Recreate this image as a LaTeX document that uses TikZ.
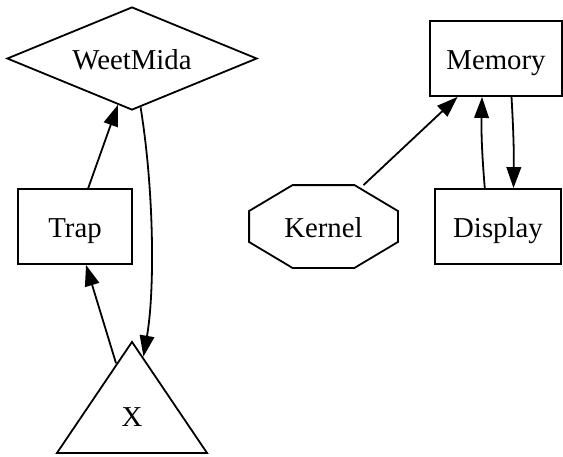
\documentclass[tikz,border=0pt]{standalone}
\usepackage{fontspec}
\setmainfont{Liberation Serif}
\usetikzlibrary{shapes.geometric,arrows.meta}

\begin{document}
\begin{tikzpicture}[x=0.5pt,y=-0.5pt,line width=0.9pt,
	>={Triangle[length=10.5pt,width=7.3pt]},
	every node/.style={font=\fontsize{14.4}{16}\selectfont,inner sep=0pt,text height=11pt,text depth=0pt},
	box/.style={draw,rectangle,minimum height=37.5pt}]
	\useasboundingbox (0,0) rectangle (563,456);

	\node[draw,diamond,aspect=2.43,minimum width=125pt,minimum height=51.5pt] (weet) at (132,58.5) {WeetMida};
	\node[box,minimum width=57pt] (trap) at (75,226.5) {Trap};
	\node[draw,isosceles triangle,isosceles triangle stretches,shape border rotate=90,minimum width=75pt,minimum height=55.5pt] (x) at (132,415.5) {X};
	\node[rectangle,minimum width=73.5pt,minimum height=40.5pt] (kernel) at (323.5,226.5) {Kernel};
	\node[box,minimum width=66pt] (memory) at (496,58.5) {Memory};
	\node[box,minimum width=63pt] (display) at (498,226.5) {Display};

	% octagon round Kernel
	\draw ([xshift=-15.5pt]kernel.north) -- ([xshift=15.5pt]kernel.north) -- ([yshift=7.75pt]kernel.east) -- ([yshift=-7.75pt]kernel.east)
		-- ([xshift=15.5pt]kernel.south) -- ([xshift=-15.5pt]kernel.south) -- ([yshift=-7.75pt]kernel.west) -- ([yshift=7.75pt]kernel.west) -- cycle;

	\draw[->] (trap.71) -- (weet.-107);
	\draw[->] (weet.-80) .. controls (154,190) and (155,290) .. (x.79);
	\draw[->] (x.107) -- (trap.-74);
	\draw[->] (kernel.46) -- (memory.-135);
	\draw[->] (display.109) to[bend left=3] (memory.-110);
	\draw[->] (memory.-68) to[bend left=2] (display.68);
\end{tikzpicture}
\end{document}
